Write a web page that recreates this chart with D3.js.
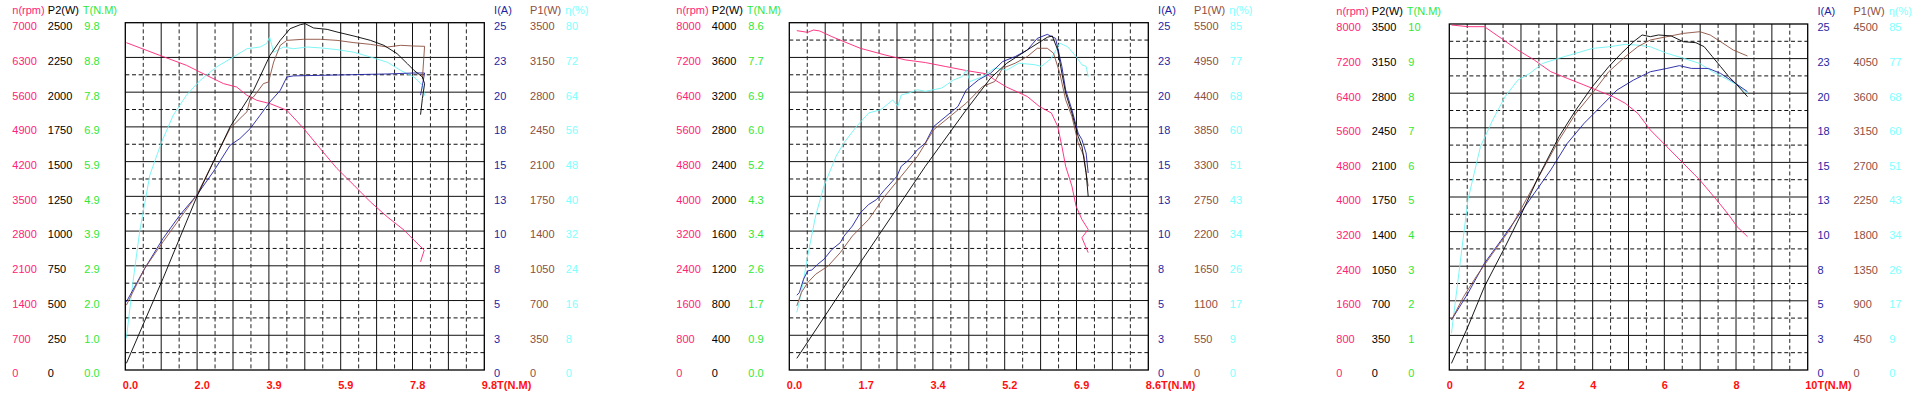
<!DOCTYPE html>
<html>
<head>
<meta charset="utf-8">
<script src="https://cdn.jsdelivr.net/npm/d3@7"></script>
<style>
body{margin:0;background:#fff;}
svg text{font-family:"Liberation Sans",Arial,sans-serif;font-size:11px;}
</style>
</head>
<body>
<svg id="chart" width="1926" height="393"></svg>
<script>
// ---- motor 1 ----
var m1XTicks=["0.0","2.0","3.9","5.9","7.8","9.8"];
var m1SpeedTicks=["0","700","1400","2100","2800","3500","4200","4900","5600","6300","7000"];
var m1P2Ticks=["0","250","500","750","1000","1250","1500","1750","2000","2250","2500"];
var m1TorqueTicks=["0.0","1.0","2.0","2.9","3.9","4.9","5.9","6.9","7.8","8.8","9.8"];
var m1CurrentTicks=["0","3","5","8","10","13","15","18","20","23","25"];
var m1P1Ticks=["0","350","700","1050","1400","1750","2100","2450","2800","3150","3500"];
var m1EffTicks=["0","8","16","24","32","40","48","56","64","72","80"];

var m1Speed=[[0.03,6597],[0.94,6342],[1.67,6141],[2.22,5939],[2.68,5772],[3.04,5704],[3.32,5537],[3.59,5436],[3.95,5369],[4.41,5235],[4.87,4866],[5.32,4463],[5.78,4060],[6.24,3725],[6.69,3389],[7.15,3087],[7.61,2819],[7.88,2617],[8.16,2416],[8.06,2181]];
var m1P2=[[0.03,48],[1.03,659],[1.95,1246],[2.86,1750],[3.50,2013],[3.95,2265],[4.23,2373],[4.50,2457],[4.78,2486],[4.91,2493],[5.14,2462],[5.51,2452],[5.78,2433],[6.24,2404],[6.69,2373],[7.06,2337],[7.42,2277],[7.70,2205],[7.88,2157],[8.11,2109],[8.17,2061],[8.11,1954],[8.06,1838]];
var m1P1=[[0.03,654],[0.53,1024],[1.03,1292],[1.49,1527],[1.95,1762],[2.40,2097],[2.86,2433],[3.22,2567],[3.32,2601],[3.41,2735],[3.50,2752],[3.77,2886],[3.91,2903],[4.05,3104],[4.23,3272],[4.41,3322],[4.87,3333],[5.32,3333],[5.78,3322],[6.24,3299],[6.69,3282],[7.15,3255],[7.52,3272],[7.88,3265],[8.17,3262],[8.11,2936]];
var m1Current=[[0.03,4.91],[0.53,7.31],[1.03,9.47],[1.49,11.15],[1.95,12.58],[2.40,14.26],[2.86,16.18],[3.13,16.66],[3.41,17.38],[3.68,18.34],[3.95,19.30],[4.23,20.13],[4.41,21.09],[4.59,21.17],[5.32,21.21],[6.24,21.26],[7.15,21.31],[7.88,21.38],[8.17,21.38],[8.11,20.49],[8.06,19.78]];
var m1Eff=[[0.03,7.3],[0.21,20.3],[0.39,31.8],[0.67,44.9],[0.99,52.5],[1.31,58.7],[1.67,63.3],[2.04,66.7],[2.49,69.8],[2.95,72.1],[3.32,74.0],[3.68,74.4],[3.86,75.2],[3.94,76.7],[4.05,73.2],[4.32,74.4],[4.59,74.0],[4.96,74.4],[5.32,74.2],[5.78,73.8],[6.24,73.2],[6.69,72.1],[7.15,70.9],[7.52,69.0],[7.88,67.5],[8.11,65.6],[8.17,63.3],[8.11,62.9]];

// ---- motor 2 ----
var m2XTicks=["0.0","1.7","3.4","5.2","6.9","8.6"];
var m2SpeedTicks=["0","800","1600","2400","3200","4000","4800","5600","6400","7200","8000"];
var m2P2Ticks=["0","400","800","1200","1600","2000","2400","2800","3200","3600","4000"];
var m2TorqueTicks=["0.0","0.9","1.7","2.6","3.4","4.3","5.2","6.0","6.9","7.7","8.6"];
var m2CurrentTicks=["0","3","5","8","10","13","15","18","20","23","25"];
var m2P1Ticks=["0","550","1100","1650","2200","2750","3300","3850","4400","4950","5500"];
var m2EffTicks=["0","9","17","26","34","43","51","60","68","77","85"];

var m2Speed=[[0.18,7817],[0.44,7778],[0.58,7832],[0.73,7809],[1.02,7679],[1.31,7564],[1.70,7411],[2.29,7258],[2.78,7143],[3.26,7082],[3.75,6990],[4.24,6898],[4.72,6822],[4.92,6684],[5.21,6515],[5.70,6301],[5.99,6071],[6.28,5918],[6.43,5612],[6.53,5153],[6.62,4693],[6.77,4234],[6.87,3774],[7.01,3468],[7.16,3238],[7.01,3047],[7.16,2703]];
var m2P2=[[0.18,134],[1.70,1236],[3.26,2347],[4.24,2997],[4.82,3361],[5.21,3533],[5.70,3686],[6.18,3832],[6.30,3847],[6.43,3686],[6.53,3418],[6.62,3189],[6.77,2959],[6.92,2691],[7.01,2576],[7.06,2423],[7.11,2270],[7.16,2002]];
var m2P1=[[0.18,1016],[0.29,1226],[0.44,1384],[0.63,1516],[0.93,1647],[1.22,1858],[1.51,2121],[1.90,2384],[2.29,2753],[2.68,3068],[3.07,3384],[3.46,3805],[3.85,4016],[4.24,4226],[4.63,4489],[4.92,4568],[5.11,4779],[5.41,4858],[5.70,4963],[5.94,5095],[6.18,5095],[6.33,5016],[6.48,4700],[6.62,4279],[6.77,4016],[6.92,3595],[7.06,3384],[7.11,3121],[7.16,2910]];
var m2Current=[[0.18,5.38],[0.24,5.57],[0.34,6.53],[0.44,7.13],[0.54,7.20],[0.68,7.61],[0.83,7.97],[1.02,8.68],[1.22,9.16],[1.31,9.64],[1.51,10.36],[1.70,11.31],[1.90,11.91],[2.09,12.27],[2.29,12.99],[2.58,13.95],[2.68,14.66],[2.87,15.14],[3.07,15.86],[3.26,16.34],[3.46,17.53],[3.75,18.25],[4.04,18.97],[4.24,20.16],[4.53,20.88],[4.82,21.36],[5.11,22.20],[5.41,22.56],[5.70,23.03],[5.94,23.87],[6.18,24.16],[6.38,23.87],[6.53,21.84],[6.62,20.16],[6.77,18.73],[6.92,17.05],[7.01,16.58],[7.11,15.62],[7.16,14.18]];
var m2Eff=[[0.18,14.1],[0.29,19.0],[0.44,27.9],[0.63,37.7],[0.83,45.0],[1.12,52.3],[1.31,55.6],[1.61,59.6],[1.90,62.9],[2.19,63.7],[2.48,66.1],[2.60,64.5],[2.68,67.3],[2.87,67.8],[3.07,68.6],[3.26,68.2],[3.65,69.0],[3.94,71.0],[4.14,71.8],[4.24,73.4],[4.33,70.6],[4.63,71.8],[4.92,73.9],[5.21,73.4],[5.50,75.1],[5.89,74.7],[6.04,74.3],[6.28,76.3],[6.48,80.0],[6.67,79.1],[6.87,76.7],[7.01,74.7],[7.11,74.3],[7.16,71.8]];

// ---- motor 3 ----
var m3XTicks=["0","2","4","6","8","10"];
var m3SpeedTicks=["0","800","1600","2400","3200","4000","4800","5600","6400","7200","8000"];
var m3P2Ticks=["0","350","700","1050","1400","1750","2100","2450","2800","3150","3500"];
var m3TorqueTicks=["0","1","2","3","4","5","6","7","8","9","10"];
var m3CurrentTicks=["0","3","5","8","10","13","15","18","20","23","25"];
var m3P1Ticks=["0","450","900","1350","1800","2250","2700","3150","3600","4050","4500"];
var m3EffTicks=["0","9","17","26","34","43","51","60","68","77","85"];

var m3Speed=[[0.06,7977],[0.52,7938],[0.98,7938],[1.45,7668],[1.91,7399],[2.37,7168],[2.83,6898],[3.29,6744],[3.76,6590],[4.22,6435],[4.57,6320],[4.91,6166],[5.26,5934],[5.61,5549],[6.07,5164],[6.53,4778],[6.99,4393],[7.46,3931],[7.80,3584],[8.03,3314],[8.32,3083]];
var m3P2=[[0.06,67],[0.52,438],[0.98,843],[1.56,1248],[2.02,1585],[2.49,1956],[3.06,2360],[3.53,2630],[3.99,2866],[4.45,3069],[4.80,3203],[5.14,3321],[5.38,3389],[5.61,3372],[5.84,3389],[6.19,3379],[6.53,3321],[6.88,3311],[7.11,3271],[7.34,3170],[7.57,3069],[7.80,2967],[8.03,2883],[8.32,2765]];
var m3P1=[[0.06,650],[0.40,954],[0.75,1214],[1.21,1517],[1.68,1821],[2.14,2211],[2.60,2601],[3.06,2991],[3.53,3338],[3.99,3598],[4.45,3880],[4.91,4075],[5.26,4205],[5.61,4292],[6.07,4335],[6.53,4378],[6.99,4400],[7.28,4357],[7.57,4270],[7.92,4162],[8.32,4084]];
var m3Current=[[0.06,3.61],[0.52,5.54],[0.98,7.71],[1.45,9.39],[1.91,11.08],[2.37,12.76],[2.83,14.45],[3.29,16.37],[3.76,17.82],[4.22,19.02],[4.68,20.23],[5.14,20.95],[5.61,21.55],[6.07,21.79],[6.42,21.99],[6.76,21.79],[7.23,21.79],[7.57,21.43],[7.92,20.83],[8.32,20.11]];
var m3Eff=[[0.06,9.0],[0.29,25.4],[0.52,41.8],[0.87,54.9],[1.21,61.4],[1.56,67.2],[1.91,71.2],[2.25,72.9],[2.60,75.3],[3.06,76.6],[3.53,77.8],[3.99,79.0],[4.45,79.4],[4.91,80.0],[5.26,79.8],[5.61,79.4],[6.07,77.8],[6.53,76.6],[6.99,75.3],[7.34,73.3],[7.69,71.7],[8.03,70.0],[8.32,68.0]];

var colors={speed:"#ff2277",p2:"#000000",torque:"#33e833",current:"#1f1fa3",p1:"#8b4f3f",eff:"#80ffff",effLine:"#70f4f4",xlab:"#ff1010"};

var panels=[
    {left:125.3,top:22.7,bottom:370,width:359,topDash:false,
     x:m1XTicks,speedT:m1SpeedTicks,p2T:m1P2Ticks,torqueT:m1TorqueTicks,currentT:m1CurrentTicks,p1T:m1P1Ticks,effT:m1EffTicks,
     speed:m1Speed,p2:m1P2,p1:m1P1,current:m1Current,eff:m1Eff},
    {left:789.3,top:22.7,bottom:370,width:359,topDash:true,
     x:m2XTicks,speedT:m2SpeedTicks,p2T:m2P2Ticks,torqueT:m2TorqueTicks,currentT:m2CurrentTicks,p1T:m2P1Ticks,effT:m2EffTicks,
     speed:m2Speed,p2:m2P2,p1:m2P1,current:m2Current,eff:m2Eff},
    {left:1449.3,top:24,bottom:370,width:358.4,topDash:true,
     x:m3XTicks,speedT:m3SpeedTicks,p2T:m3P2Ticks,torqueT:m3TorqueTicks,currentT:m3CurrentTicks,p1T:m3P1Ticks,effT:m3EffTicks,
     speed:m3Speed,p2:m3P2,p1:m3P1,current:m3Current,eff:m3Eff}
];

var svg=d3.select('#chart');

function drawPanel(p){
    var g=svg.append('g');
    var right=p.left+p.width;
    var cx=d3.scaleLinear().domain([0,10]).range([p.left,right]);
    var cy=d3.scaleLinear().domain([0,10]).range([p.bottom,p.top]);
    var xMax=+p.x[p.x.length-1];
    var x=d3.scaleLinear().domain([0,xMax]).range([p.left,right]);

    //grid: solid at every cell, dashed at half cells
    var grid=g.append('g').attr('fill','none');
    grid.selectAll('line.vs').data(d3.range(1,10))
        .enter().append('line')
            .attr('x1',function(d){return cx(d);}).attr('x2',function(d){return cx(d);})
            .attr('y1',p.top).attr('y2',p.bottom)
            .attr('stroke','#111').attr('stroke-width',1);
    grid.selectAll('line.hs').data(d3.range(1,10))
        .enter().append('line')
            .attr('y1',function(d){return cy(d);}).attr('y2',function(d){return cy(d);})
            .attr('x1',p.left).attr('x2',right)
            .attr('stroke','#111').attr('stroke-width',1);
    grid.selectAll('line.vd').data(d3.range(0.5,10,1))
        .enter().append('line')
            .attr('x1',function(d){return cx(d);}).attr('x2',function(d){return cx(d);})
            .attr('y1',p.top).attr('y2',p.bottom)
            .attr('stroke','#222').attr('stroke-width',1).attr('stroke-dasharray','4,2.7');
    var hd=d3.range(0.5,10,1);
    if(!p.topDash) hd=hd.slice(0,9);
    grid.selectAll('line.hd').data(hd)
        .enter().append('line')
            .attr('y1',function(d){return cy(d);}).attr('y2',function(d){return cy(d);})
            .attr('x1',p.left).attr('x2',right)
            .attr('stroke','#111').attr('stroke-width',1).attr('stroke-dasharray','4,2.7');
    g.append('rect')
        .attr('x',p.left).attr('y',p.top)
        .attr('width',p.width).attr('height',p.bottom-p.top)
        .attr('fill','none').attr('stroke','#000').attr('stroke-width',1.3);

    //curves
    var series=[
        {data:p.speed,ticks:p.speedT,color:colors.speed},
        {data:p.eff,ticks:p.effT,color:colors.effLine},
        {data:p.current,ticks:p.currentT,color:colors.current},
        {data:p.p1,ticks:p.p1T,color:colors.p1},
        {data:p.p2,ticks:p.p2T,color:colors.p2}
    ];
    series.forEach(function(s){
        var y=d3.scaleLinear().domain([0,+s.ticks[10]]).range([p.bottom,p.top]);
        var line=d3.line()
            .x(function(d){return x(d[0]);})
            .y(function(d){return y(d[1]);});
        g.append('path')
            .datum(s.data)
            .attr('d',line)
            .attr('fill','none')
            .attr('stroke',s.color)
            .attr('stroke-width',0.9);
    });

    //side labels
    var cols=[
        {ticks:p.speedT,title:"n(rpm)",dx:-113,color:colors.speed},
        {ticks:p.p2T,title:"P2(W)",dx:-77.5,color:colors.p2},
        {ticks:p.torqueT,title:"T(N.M)",dx:-41,color:colors.torque,tdx:-1.5},
        {ticks:p.currentT,title:"I(A)",dx:p.width+9.8,color:colors.current},
        {ticks:p.p1T,title:"P1(W)",dx:p.width+45.8,color:colors.p1},
        {ticks:p.effT,title:"\u03b7(%)",dx:p.width+81.5,color:colors.eff,tdx:-0.5}
    ];
    cols.forEach(function(c){
        g.selectAll(null).data(c.ticks)
            .enter().append('text')
                .attr('x',p.left+c.dx)
                .attr('y',function(d,i){return cy(i)+3.5;})
                .attr('dy','0.35em')
                .attr('fill',c.color)
                .text(function(d){return d;});
        g.append('text')
            .attr('x',p.left+c.dx+(c.tdx||0))
            .attr('y',p.top-13)
            .attr('dy','0.35em')
            .attr('fill',c.color)
            .text(c.title);
    });

    //x labels, one every two cells
    g.selectAll(null).data(p.x)
        .enter().append('text')
            .attr('x',function(d,i){return cx(i*2)-2.5;})
            .attr('y',385.5)
            .attr('dy','0.35em')
            .attr('fill',colors.xlab)
            .attr('font-weight','bold')
            .text(function(d,i){return i==p.x.length-1 ? d+"T(N.M)" : d;});
}

panels.forEach(drawPanel);
</script>
</body>
</html>
